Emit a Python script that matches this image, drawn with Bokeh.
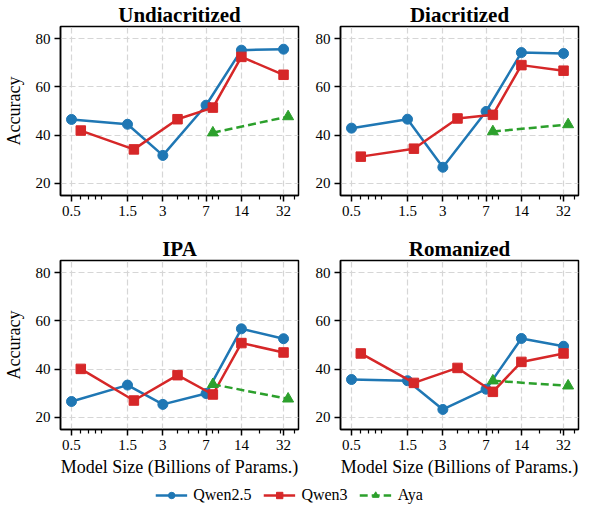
from bokeh.plotting import figure
from bokeh.layouts import column, row
from bokeh.models import FixedTicker, Range1d, Legend, LegendItem
from bokeh.embed import file_html
from bokeh.resources import INLINE

# ---------------- data ----------------
qwen25_sizes = [0.5, 1.5, 3, 7, 14, 32]
qwen3_sizes = [0.6, 1.7, 4, 8, 14, 32]
aya_sizes = [8, 35]

panel_titles = ["Undiacritized", "Diacritized", "IPA", "Romanized"]

qwen25_undiac = [46.5, 44.5, 31.6, 52.4, 75.2, 75.6]
qwen3_undiac = [41.9, 34.1, 46.6, 51.4, 72.4, 65.0]
aya_undiac = [41.0, 47.7]

qwen25_diac = [42.9, 46.6, 26.7, 49.8, 74.2, 73.8]
qwen3_diac = [31.1, 34.4, 46.9, 48.4, 69.0, 66.7]
aya_diac = [41.5, 44.4]

qwen25_ipa = [26.6, 33.4, 25.4, 29.9, 56.7, 52.6]
qwen3_ipa = [40.1, 27.0, 37.5, 29.5, 50.8, 46.9]
aya_ipa = [33.7, 27.7]

qwen25_rom = [35.7, 35.2, 23.3, 31.7, 52.7, 49.5]
qwen3_rom = [46.5, 34.3, 40.5, 30.6, 43.0, 46.5]
aya_rom = [35.2, 33.1]

x_ticks = [0.5, 1.5, 3, 7, 14, 32]
x_tick_labels = ["0.5", "1.5", "3", "7", "14", "32"]
x_minor_ticks = [0.6, 0.7, 0.8, 0.9, 2, 4, 5, 6, 8, 9, 20, 30, 40]
y_ticks = [20, 40, 60, 80]

x_label = "Model Size (Billions of Params.)"
y_label = "Accuracy"

series_names = ["Qwen2.5", "Qwen3", "Aya"]

# ---------------- style ----------------
FONT = "Liberation Serif"
C_BLUE = "#1f77b4"
C_RED = "#d62728"
C_GREEN = "#2ca02c"

panels = [
    (qwen25_undiac, qwen3_undiac, aya_undiac),
    (qwen25_diac, qwen3_diac, aya_diac),
    (qwen25_ipa, qwen3_ipa, aya_ipa),
    (qwen25_rom, qwen3_rom, aya_rom),
]

FW, FH = 238, 169


def make_panel(i):
    is_left = i % 2 == 0
    is_bottom = i >= 2
    p = figure(
        x_axis_type="log",
        frame_width=FW, frame_height=FH,
        x_range=Range1d(0.403, 42.9), y_range=Range1d(15, 85),
        output_backend="svg", toolbar_location=None,
        min_border_left=55 if is_left else 35,
        min_border_right=7 if is_left else 5,
        min_border_top=18 if not is_bottom else 37,
        min_border_bottom=28 if not is_bottom else 48,
        background_fill_color="white", border_fill_color="white",
    )
    p.title.text = panel_titles[i]
    p.title.align = "center"
    p.title.text_font = FONT
    p.title.text_font_size = "21px"
    p.title.text_font_style = "bold"
    p.title.text_color = "black"
    p.title.standoff = 0
    p.title.offset = 0
    p.outline_line_color = "black"
    p.outline_line_width = 1.5
    p.outline_line_alpha = 1

    xa = p.xaxis[0]
    xa.ticker = FixedTicker(ticks=x_ticks, minor_ticks=x_minor_ticks)
    xa.major_label_overrides = {t: l for t, l in zip(x_ticks, x_tick_labels)}
    ya = p.yaxis[0]
    ya.ticker = FixedTicker(ticks=y_ticks)
    for ax in (xa, ya):
        ax.axis_line_width = 1.5
        ax.axis_line_color = "black"
        ax.major_tick_in = 0
        ax.major_tick_out = 6
        ax.major_tick_line_width = 1.5
        ax.major_label_text_font = FONT
        ax.major_label_text_font_size = "15px"
        ax.major_label_text_color = "black"
        ax.major_label_standoff = 4
        ax.axis_label_text_font = FONT
        ax.axis_label_text_font_size = "18px"
        ax.axis_label_text_font_style = "normal"
        ax.axis_label_text_color = "black"
    xa.minor_tick_in = 0
    xa.minor_tick_out = 4
    xa.minor_tick_line_width = 1.2
    ya.minor_tick_line_color = None
    if is_left:
        ya.axis_label = y_label
        ya.axis_label_standoff = 9
    if is_bottom:
        xa.axis_label = x_label
        xa.axis_label_standoff = 4

    for g in (p.xgrid[0], p.ygrid[0]):
        g.grid_line_color = "#d6d6d6"
        g.grid_line_dash = "6 3"
        g.grid_line_width = 1.2

    q25, q3, aya = panels[i]
    p.line(qwen25_sizes, q25, line_color=C_BLUE, line_width=2.5)
    p.scatter(qwen25_sizes, q25, marker="circle", size=10, fill_color=C_BLUE, line_color=C_BLUE)
    p.line(qwen3_sizes, q3, line_color=C_RED, line_width=2.5)
    p.scatter(qwen3_sizes, q3, marker="square", size=9.5, fill_color=C_RED, line_color=C_RED)
    p.line(aya_sizes, aya, line_color=C_GREEN, line_width=2.5, line_dash="8 4")
    p.scatter(aya_sizes, aya, marker="triangle", size=11, fill_color=C_GREEN, line_color=C_GREEN)
    return p


figs = [make_panel(i) for i in range(4)]

# legend figure
leg = figure(width=578, height=32, output_backend="svg", toolbar_location=None,
             x_range=Range1d(0, 1), y_range=Range1d(0, 1),
             min_border=0, outline_line_color=None)
leg.axis.visible = False
leg.grid.visible = False
colors = [C_BLUE, C_RED, C_GREEN]
markers = ["circle", "square", "triangle"]
dashes = ["solid", "solid", "8 4"]
msizes = [9, 8.5, 10]
items = []
for name, c, m, d, ms in zip(series_names, colors, markers, dashes, msizes):
    lr = leg.line([5, 6], [5, 6], line_color=c, line_width=2.5, line_dash=d)
    sr = leg.scatter([5], [5], marker=m, size=ms, fill_color=c, line_color=c)
    items.append(LegendItem(label=name, renderers=[lr, sr]))
legend = Legend(items=items, orientation="horizontal", location="center",
                label_text_font=FONT, label_text_font_size="16px",
                label_text_color="black",
                glyph_width=32, glyph_height=16, spacing=12, label_standoff=6,
                border_line_color=None, background_fill_alpha=0, padding=0, margin=0)
leg.add_layout(legend, "center")

layout = column(row(figs[0], figs[1]), row(figs[2], figs[3]), leg)
open("out.html", "w").write(file_html(layout, INLINE))
